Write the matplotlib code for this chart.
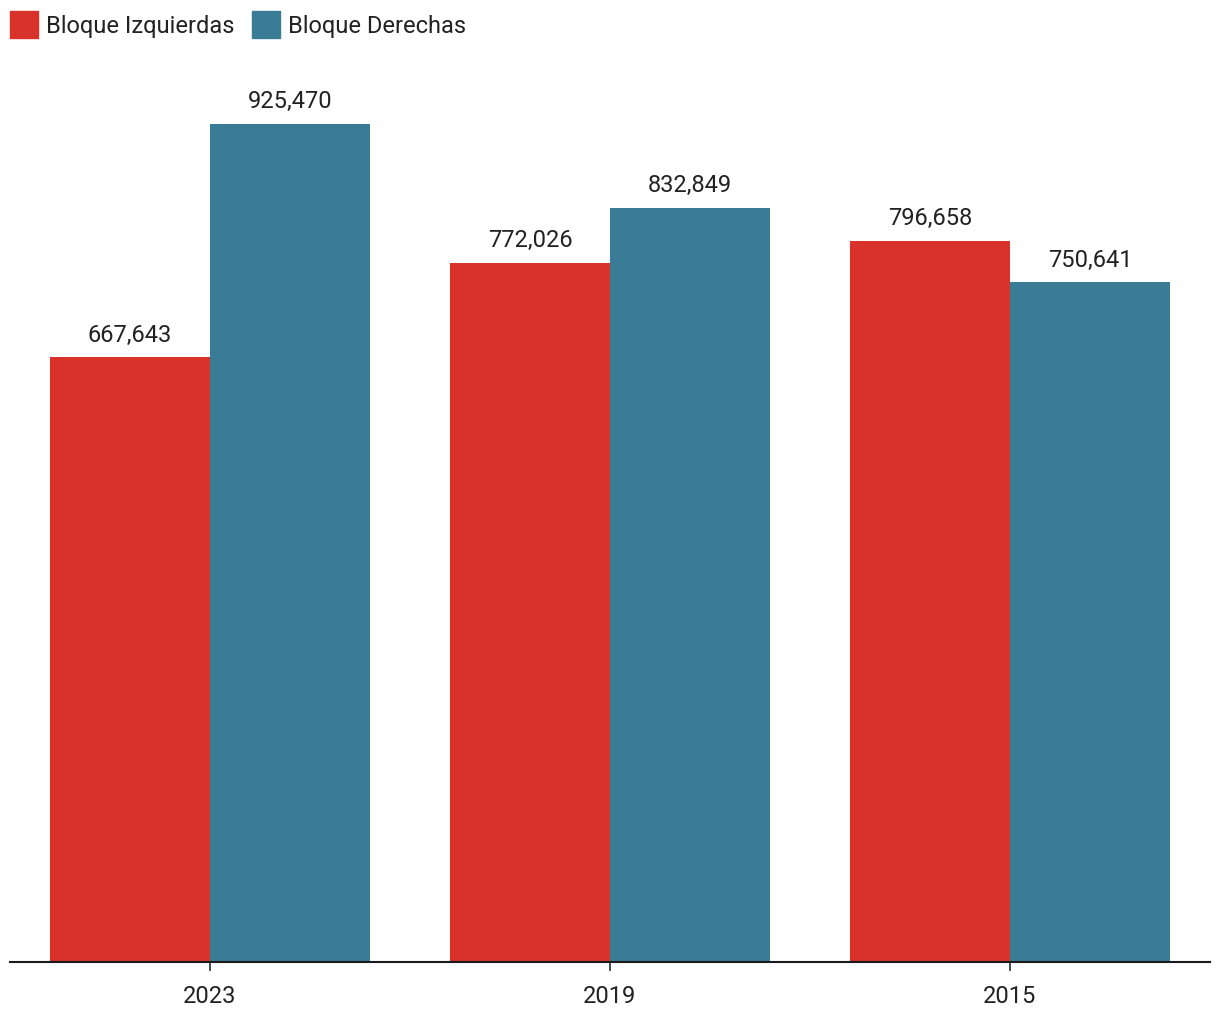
import matplotlib.pyplot as plt
import numpy as np
from matplotlib.patches import Patch

# Data
years = ['2023', '2019', '2015']
izquierdas = [667643, 772026, 796658]
derechas = [925470, 832849, 750641]

red = '#d9322b'
blue = '#3a7b95'
text_color = '#222222'

plt.rcParams['font.family'] = ['Roboto', 'DejaVu Sans']
plt.rcParams['font.size'] = 17

fig = plt.figure(figsize=(12.2, 10.2), dpi=100)
ax = fig.add_axes([10 / 1220, 57 / 1020, 1200 / 1220, (963 - 70) / 1020])

x = np.arange(len(years))
w = 0.4
b1 = ax.bar(x - w / 2, izquierdas, w, color=red, label='Bloque Izquierdas')
b2 = ax.bar(x + w / 2, derechas, w, color=blue, label='Bloque Derechas')

for bars in (b1, b2):
    ax.bar_label(bars, labels=[f'{v:,}' for v in bars.datavalues],
                 padding=8.5, fontsize=17, color=text_color)

ax.set_xlim(-0.5, 2.5)
ax.set_ylim(0, 925470 * (963 - 70) / 838)
ax.set_xticks(x)
ax.set_xticklabels(years, color=text_color)
ax.set_yticks([])
for side in ('top', 'left', 'right'):
    ax.spines[side].set_visible(False)
ax.spines['bottom'].set_linewidth(1.5)
ax.spines['bottom'].set_color('#1a1a1a')
ax.tick_params(axis='x', length=6.5, width=1.1, color='#1a1a1a', pad=9)

handles = [Patch(color=red), Patch(color=blue)]
fig.legend(handles, ['Bloque Izquierdas', 'Bloque Derechas'], ncol=2,
           loc='upper left', bbox_to_anchor=(10 / 1220, 1 - 12 / 1020),
           frameon=False, borderpad=0, borderaxespad=0,
           handlelength=1.17, handleheight=1.4, handletextpad=0.35,
           columnspacing=0.75, labelcolor=text_color)

fig.savefig('out.png', dpi=100)
